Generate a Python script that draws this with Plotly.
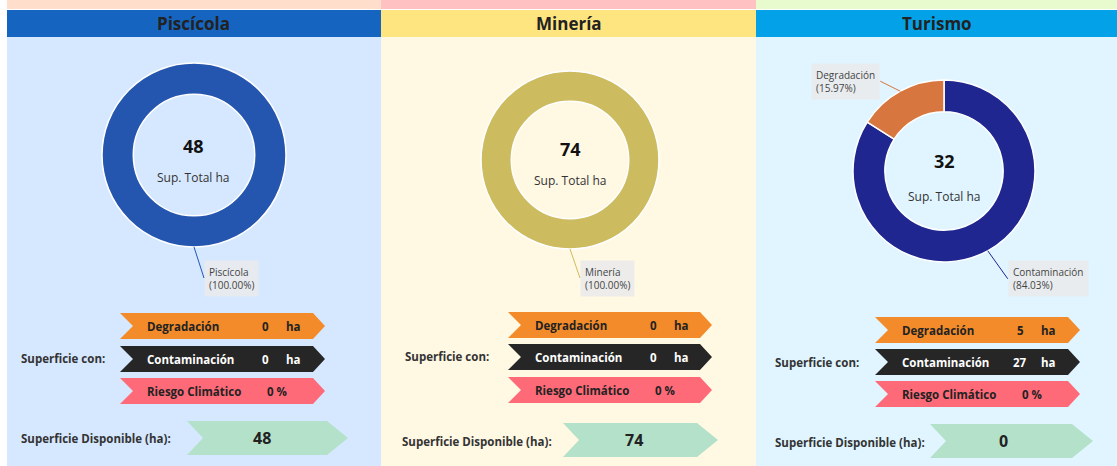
import math
import plotly.graph_objects as go

# ---- data -------------------------------------------------------------
sectores = ["Piscícola", "Minería", "Turismo"]
sup_total = [48, 74, 32]
degradacion = [0, 0, 5.11]
contaminacion = [0, 0, 26.89]
riesgo_climatico = [0, 0, 0]
disponible = [48, 74, 0]

# donut slices for each sector (clockwise from 12 o'clock)
slice_labels = [["Piscícola"], ["Minería"], ["Contaminación", "Degradación"]]
slice_values = [[48], [74], [26.89, 5.11]]

# ---- page geometry (pixels) --------------------------------------------
W, H = 1117, 466
FONT = "Open Sans"


def X(px):
    return px / W


def Y(py):
    return 1 - py / H


panels = [
    dict(x0=7, x1=381, strip="#FFDECB", head="#1565C0", body="#D6E8FF",
         cx=194, cy=155, r=92, hole=0.66, num_y=146, sub_y=177,
         colors=["#2456B0"],
         label_offsets=[(10, 31, "left")],
         rows_x=(120, 325), rows_y=(313, 346, 378), row_h=26,
         con_lbl=(19, 358),
         green=(187, 348, 421, 455), green_val_x=262, disp_lbl=(19, 438)),
    dict(x0=381, x1=756, strip="#FFC1C1", head="#FFE57F", body="#FFF8E3",
         cx=570, cy=160, r=89, hole=0.66, num_y=149, sub_y=181,
         colors=["#CDBB5F"],
         label_offsets=[(10, 29, "left")],
         rows_x=(508, 712), rows_y=(312, 344, 377), row_h=26,
         con_lbl=(403, 356),
         green=(563, 718, 423, 457), green_val_x=634, disp_lbl=(400, 441)),
    dict(x0=756, x1=1117, strip="#E8FBCF", head="#03A2E8", body="#E0F5FF",
         cx=944, cy=171, r=91, hole=0.65, num_y=161, sub_y=196,
         colors=["#1F268F", "#D7763F"],
         label_offsets=[(20, 28, "left"), (-20, -10, "right")],
         rows_x=(875, 1080), rows_y=(317, 349, 381), row_h=26,
         con_lbl=(773, 362),
         green=(930, 1093, 424, 458), green_val_x=1003, disp_lbl=(773, 442)),
]

ROW_COLORS = ["#F38B2A", "#262626", "#FF6A78"]
ROW_TEXT = ["#222222", "#FFFFFF", "#222222"]
GREEN = "#B4E1C9"


def chevron(x0, x1, y0, y1, notch, tip, color):
    ym = (y0 + y1) / 2
    pts = [(x0, y0), (x1 - tip, y0), (x1, ym), (x1 - tip, y1), (x0, y1), (x0 + notch, ym)]
    path = "M " + " L ".join(f"{X(a):.5f},{Y(b):.5f}" for a, b in pts) + " Z"
    return dict(type="path", path=path, xref="paper", yref="paper",
                fillcolor=color, line=dict(width=0), layer="below")


def rect(x0, y0, x1, y1, color):
    return dict(type="rect", xref="paper", yref="paper",
                x0=X(x0), x1=X(x1), y0=Y(y1), y1=Y(y0),
                fillcolor=color, line=dict(width=0), layer="below")


def text(x, y, s, size=12, color="#222222", bold=False, xanchor="center"):
    return dict(x=X(x), y=Y(y), xref="paper", yref="paper", text=f"<b>{s}</b>" if bold else s,
                showarrow=False, xanchor=xanchor, yanchor="middle",
                font=dict(family=FONT, size=size, color=color))


fig = go.Figure()
shapes, annotations = [], []

for i, p in enumerate(panels):
    # panel backgrounds and title bar
    shapes.append(rect(p["x0"], 0, p["x1"], 9, p["strip"]))
    shapes.append(rect(p["x0"], 10, p["x1"], 37, p["head"]))
    shapes.append(rect(p["x0"], 37, p["x1"], H, p["body"]))
    annotations.append(text((p["x0"] + p["x1"]) / 2, 23, sectores[i], size=17,
                            color="#222222", bold=True))

    # donut, slices laid out clockwise from 12 o'clock
    cx, cy, r = p["cx"], p["cy"], p["r"]
    fig.add_trace(go.Pie(
        labels=slice_labels[i], values=slice_values[i], hole=p["hole"],
        sort=False, direction="clockwise", rotation=0,
        marker=dict(colors=p["colors"], line=dict(color="white", width=1.5)),
        textinfo="none", hoverinfo="label+value+percent", showlegend=False,
        domain=dict(x=[X(cx - r), X(cx + r)], y=[Y(cy + r), Y(cy - r)]),
    ))
    annotations.append(text(cx, p["num_y"], f"{sup_total[i]}", size=18, color="#111111", bold=True))
    annotations.append(text(cx, p["sub_y"], "Sup. Total ha", size=12, color="#333333"))

    # slice labels with leader lines, placed from each slice's mid angle
    total = sum(slice_values[i])
    start = 0.0
    for j, (lab, val) in enumerate(zip(slice_labels[i], slice_values[i])):
        frac = val / total
        mid = math.radians((start + frac / 2) * 360)
        start += frac
        ex, ey = cx + r * math.sin(mid), cy - r * math.cos(mid)
        ax, ay, anchor = p["label_offsets"][j]
        annotations.append(dict(
            x=X(ex), y=Y(ey), xref="paper", yref="paper",
            text=f"{lab}<br>({frac:.2%})", align="left",
            showarrow=True, arrowhead=0, arrowwidth=1, arrowcolor=p["colors"][j],
            standoff=0, ax=ax, ay=ay, xanchor=anchor, yanchor="middle",
            bgcolor="rgba(234,234,236,0.85)", borderpad=4,
            font=dict(family=FONT, size=10, color="#444444"),
        ))

    # "Superficie con:" rows
    lx, rx = p["rows_x"]
    row_vals = [f"{degradacion[i]:.0f}", f"{contaminacion[i]:.0f}", f"{riesgo_climatico[i]:.0f} %"]
    row_names = ["Degradación", "Contaminación", "Riesgo Climático"]
    for k, ty in enumerate(p["rows_y"]):
        by = ty + p["row_h"]
        my = (ty + by) / 2
        shapes.append(chevron(lx, rx, ty, by, 13, 12, ROW_COLORS[k]))
        annotations.append(text(lx + 25, my, row_names[k], size=11.5, color=ROW_TEXT[k],
                                bold=True, xanchor="left"))
        if k < 2:
            annotations.append(text(lx + 145, my, row_vals[k], size=11.5, color=ROW_TEXT[k], bold=True))
            annotations.append(text(lx + 173, my, "ha", size=11.5, color=ROW_TEXT[k], bold=True))
        else:
            annotations.append(text(lx + 157, my, row_vals[k], size=11.5, color=ROW_TEXT[k], bold=True))
    annotations.append(text(p["con_lbl"][0], p["con_lbl"][1], "Superficie con:", size=11.5,
                            color="#333333", bold=True, xanchor="left"))

    # available surface
    gx0, gx1, gy0, gy1 = p["green"]
    shapes.append(chevron(gx0, gx1, gy0, gy1, 16, 21, GREEN))
    annotations.append(text(p["green_val_x"], (gy0 + gy1) / 2, f"{disponible[i]}", size=16,
                            color="#222222", bold=True))
    annotations.append(text(p["disp_lbl"][0], p["disp_lbl"][1], "Superficie Disponible (ha):",
                            size=11.5, color="#333333", bold=True, xanchor="left"))

fig.update_layout(
    width=W, height=H, margin=dict(l=0, r=0, t=0, b=0),
    paper_bgcolor="white", plot_bgcolor="white",
    shapes=shapes, annotations=annotations,
    font=dict(family=FONT),
)

fig.write_html("out.html")
